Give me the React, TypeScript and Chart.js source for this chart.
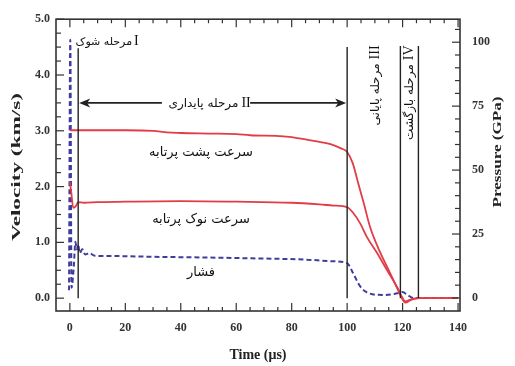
import React, { useEffect, useRef } from 'react';
import { Chart, registerables } from 'chart.js';

Chart.register(...registerables);

// ---------- data ----------
const timeTicks = [0, 20, 40, 60, 80, 100, 120, 140];
const velocityTicks = [0, 1, 2, 3, 4, 5];
const pressureTicks = [0, 25, 50, 75, 100];

// rear (back) velocity of projectile, km/s
const backTime = [0, 10, 20, 30, 35, 40, 50, 60, 65, 77, 82, 89, 94, 98, 100, 102, 104, 106, 108.3, 112, 115.5, 118.4, 120.2, 121, 123, 126, 140];
const backVelocity = [3.01, 3.01, 3.01, 3.0, 2.97, 2.96, 2.95, 2.94, 2.92, 2.9, 2.87, 2.81, 2.76, 2.68, 2.62, 2.42, 2.06, 1.7, 1.27, 0.81, 0.45, 0.14, -0.04, -0.08, -0.03, 0, 0];

// tip (nose) velocity of projectile, km/s
const tipTime = [0, 0.5, 1.2, 2, 3, 5, 10, 20, 40, 60, 80, 90, 95, 100, 102, 104.7, 107.2, 110.8, 114.4, 118, 119.8, 121, 123, 126, 140];
const tipVelocity = [2.08, 1.9, 1.62, 1.64, 1.72, 1.71, 1.72, 1.73, 1.74, 1.73, 1.71, 1.68, 1.66, 1.63, 1.54, 1.34, 1.09, 0.81, 0.5, 0.2, 0.02, -0.06, -0.02, 0, 0];

// pressure, GPa
const pressureTime = [-0.3, 0.15, 0.6, 1.4, 2, 2.5, 3, 3.5, 4.5, 5.5, 7, 9, 15, 30, 50, 70, 85, 94, 100, 102, 104.7, 107, 110, 114, 118, 120, 121.7, 124, 140];
const pressureValues = [3, 101, 4, 12, 22, 19, 21, 17.5, 19, 17, 17.5, 16.5, 16.4, 16.1, 15.8, 15.4, 15, 14.4, 13.6, 10, 4.5, 2.3, 1.3, 1.2, 1.8, 2.3, 1.2, 0, 0];

// phase boundaries (time) and their top (velocity units)
const phaseLineTimes = [3, 100, 119.2, 125.7];
const phaseLineTops = [4.48, 4.5, 4.52, 4.52];
const arrowLevel = 3.5;
const arrowGap = [33.2, 65];

const seriesLabels = ['سرعت پشت پرتابه', 'سرعت نوک پرتابه', 'فشار'];
const seriesLabelTimes = [47.3, 47.3, 47.3];
const seriesLabelLevels = [2.6, 1.4, 0.45];
const phaseNumerals = ['I', 'II', 'III', 'IV'];
const phaseNames = ['مرحله شوک', 'مرحله پایداری', 'مرحله پایانی', 'مرحله بازگشت'];

const RED = '#e23c46';
const BLUE = '#403c9e';
const INK = '#222';
const SERIF = '"Liberation Serif", "DejaVu Serif", serif';
const PERSIAN = '"DejaVu Sans", sans-serif';

const toPoints = (xs: number[], ys: number[]) => xs.map((x, i) => ({ x, y: ys[i] }));

const overlay = {
  id: 'overlay',
  afterDatasetsDraw(chart: any) {
    const { ctx, chartArea, scales } = chart;
    const { left, right, top, bottom } = chartArea;
    const xs = scales.x, vy = scales.y, py = scales.y2;
    ctx.save();
    const seg = (x1: number, y1: number, x2: number, y2: number) => {
      ctx.beginPath(); ctx.moveTo(x1, y1); ctx.lineTo(x2, y2); ctx.stroke();
    };

    // frame
    ctx.strokeStyle = '#333';
    ctx.lineWidth = 1.6;
    ctx.strokeRect(left, top, right - left, bottom - top);

    // inward ticks
    ctx.lineWidth = 1.2;
    for (let t = 0; t <= 140; t += 5) {
      const px = xs.getPixelForValue(t);
      const len = t % 20 === 0 ? 8 : 4;
      seg(px, bottom, px, bottom - len);
      seg(px, top, px, top + len);
    }
    for (let i = 0; i <= 20; i++) {
      const v = i * 0.25;
      const p = vy.getPixelForValue(v);
      const len = i % 4 === 0 ? 8 : 5;
      seg(left, p, left + len, p);
    }
    for (let g = 0; g <= 105; g += 5) {
      const p = py.getPixelForValue(g);
      const len = g % 25 === 0 ? 8 : 5;
      seg(right, p, right - len, p);
    }

    // phase lines
    ctx.strokeStyle = INK;
    ctx.lineWidth = 1.4;
    phaseLineTimes.forEach((t, i) => {
      const px = xs.getPixelForValue(t);
      seg(px, vy.getPixelForValue(phaseLineTops[i]), px, vy.getPixelForValue(0));
    });

    // arrow of phase II
    const ay = vy.getPixelForValue(arrowLevel);
    const ax1 = xs.getPixelForValue(phaseLineTimes[0]);
    const ax2 = xs.getPixelForValue(phaseLineTimes[1]);
    const g1 = xs.getPixelForValue(arrowGap[0]);
    const g2 = xs.getPixelForValue(arrowGap[1]);
    ctx.lineWidth = 1.6;
    seg(ax1 + 6, ay, g1, ay);
    seg(g2, ay, ax2 - 6, ay);
    ctx.fillStyle = INK;
    const head = (tip: number, dir: number) => {
      ctx.beginPath();
      ctx.moveTo(tip, ay);
      ctx.lineTo(tip + dir * 11, ay - 4.5);
      ctx.lineTo(tip + dir * 8, ay);
      ctx.lineTo(tip + dir * 11, ay + 4.5);
      ctx.closePath();
      ctx.fill();
    };
    head(ax1 + 1, 1);
    head(ax2 - 1, -1);

    ctx.fillStyle = '#111';
    ctx.textBaseline = 'middle';

    // phase I label
    {
      const px = xs.getPixelForValue(22.8);
      const pyy = vy.getPixelForValue(4.6);
      ctx.font = '14px ' + SERIF;
      ctx.textAlign = 'left';
      ctx.fillText(phaseNumerals[0], px + 1, pyy);
      ctx.font = '11px ' + PERSIAN;
      ctx.textAlign = 'right';
      ctx.fillText(phaseNames[0], px - 1, pyy + 1);
    }
    // phase II label
    {
      const px = xs.getPixelForValue(61.5);
      ctx.font = '14px ' + SERIF;
      ctx.textAlign = 'left';
      ctx.fillText(phaseNumerals[1], px + 1, ay);
      ctx.font = '12px ' + PERSIAN;
      ctx.textAlign = 'right';
      ctx.fillText(phaseNames[1], px - 2, ay + 1);
    }
    // phase III and IV labels (vertical)
    const vertical = (t: number, num: string, name: string) => {
      const px = xs.getPixelForValue(t);
      const pyy = vy.getPixelForValue(4.53);
      ctx.save();
      ctx.translate(px, pyy);
      ctx.rotate(-Math.PI / 2);
      ctx.textAlign = 'right';
      ctx.font = '14px ' + SERIF;
      ctx.fillText(num, 0, 0);
      const w = ctx.measureText(num).width;
      ctx.font = '12px ' + PERSIAN;
      ctx.fillText(name, -(w + 4), 1);
      ctx.restore();
    };
    vertical(110, phaseNumerals[2], phaseNames[2]);
    vertical(122.3, phaseNumerals[3], phaseNames[3]);

    // series labels
    ctx.textAlign = 'center';
    seriesLabels.forEach((s, i) => {
      ctx.font = '13px ' + PERSIAN;
      ctx.fillText(s, xs.getPixelForValue(seriesLabelTimes[i]), vy.getPixelForValue(seriesLabelLevels[i]));
    });

    // axis titles (vertical)
    const stretched = (text: string, cx: number, cy: number, len: number) => {
      ctx.save();
      ctx.translate(cx, cy);
      ctx.rotate(-Math.PI / 2);
      ctx.font = 'bold 13px ' + SERIF;
      ctx.textAlign = 'center';
      ctx.textBaseline = 'middle';
      const w = ctx.measureText(text).width;
      ctx.scale(len / w, 1);
      ctx.fillStyle = '#222';
      ctx.fillText(text, 0, 0);
      ctx.restore();
    };
    stretched('Velocity (km/s)', 17, 167, 148);
    stretched('Pressure (GPa)', 498, 152, 111);

    ctx.restore();
  },
};

export default function App() {
  const ref = useRef<HTMLCanvasElement | null>(null);
  useEffect(() => {
    if (!ref.current) return;
    const tickFont = { family: SERIF, size: 12, weight: 'bold' as const };
    const chart = new Chart(ref.current, {
      type: 'line',
      data: {
        datasets: [
          {
            label: seriesLabels[0],
            data: toPoints(backTime, backVelocity),
            yAxisID: 'y',
            borderColor: RED,
            borderWidth: 1.8,
            pointRadius: 0,
            cubicInterpolationMode: 'monotone',
          },
          {
            label: seriesLabels[1],
            data: toPoints(tipTime, tipVelocity),
            yAxisID: 'y',
            borderColor: RED,
            borderWidth: 1.8,
            pointRadius: 0,
            cubicInterpolationMode: 'monotone',
          },
          {
            label: seriesLabels[2],
            data: toPoints(pressureTime, pressureValues),
            yAxisID: 'y2',
            borderColor: BLUE,
            borderWidth: 2,
            borderDash: [5, 3],
            pointRadius: 0,
            cubicInterpolationMode: 'monotone',
          },
        ],
      },
      options: {
        animation: false,
        responsive: false,
        maintainAspectRatio: false,
        layout: { padding: { top: 19, left: 0, right: 0, bottom: 0 } },
        plugins: { legend: { display: false }, tooltip: { enabled: false } },
        scales: {
          x: {
            type: 'linear',
            min: -5,
            max: 140.7,
            grid: { display: false, drawTicks: false },
            border: { display: false },
            afterBuildTicks: (s: any) => { s.ticks = timeTicks.map((v) => ({ value: v })); },
            afterFit: (s: any) => { s.height = 55; },
            ticks: { font: tickFont, color: '#333', padding: 10, maxRotation: 0, autoSkip: false },
            title: { display: true, text: 'Time (μs)', color: '#222', font: { family: SERIF, size: 14, weight: 'bold' }, padding: { top: 0, bottom: 2 } },
          },
          y: {
            type: 'linear',
            position: 'left',
            min: -0.23,
            max: 5,
            grid: { display: false, drawTicks: false },
            border: { display: false },
            afterBuildTicks: (s: any) => { s.ticks = velocityTicks.map((v) => ({ value: v })); },
            afterFit: (s: any) => { s.width = 56; },
            ticks: { font: tickFont, color: '#333', padding: 6, callback: (v: any) => Number(v).toFixed(1) },
          },
          y2: {
            type: 'linear',
            position: 'right',
            min: -5.1,
            max: 109,
            grid: { display: false, drawTicks: false },
            border: { display: false },
            afterBuildTicks: (s: any) => { s.ticks = pressureTicks.map((v) => ({ value: v })); },
            afterFit: (s: any) => { s.width = 55; },
            ticks: { font: tickFont, color: '#333', padding: 12 },
          },
        },
      },
      plugins: [overlay],
    });
    return () => chart.destroy();
  }, []);
  return (
    <div style={{ position: 'fixed', left: 0, top: 0, width: 515, height: 366, background: '#fff' }}>
      <canvas ref={ref} width={515} height={366} style={{ display: 'block', width: 515, height: 366 }} />
    </div>
  );
}
